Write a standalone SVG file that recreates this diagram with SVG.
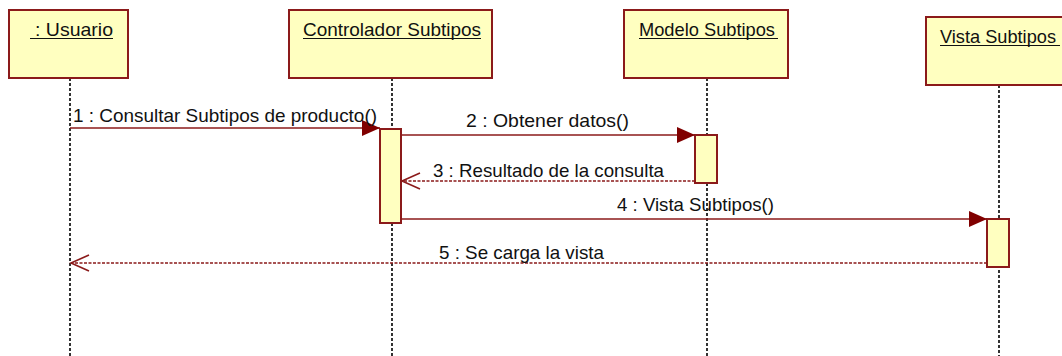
<svg xmlns="http://www.w3.org/2000/svg" width="1062" height="356" viewBox="0 0 1062 356">
  <defs>
    <marker id="filled" markerUnits="userSpaceOnUse" markerWidth="20" markerHeight="18" refX="18" refY="8" orient="auto">
      <path d="M0,0 L18,8 L0,16 Z" fill="#800000"/>
    </marker>
    <marker id="open" markerUnits="userSpaceOnUse" markerWidth="22" markerHeight="20" refX="19" refY="9" orient="auto">
      <path d="M1,1 L19,9 L1,17" fill="none" stroke="#8b1a1a" stroke-width="1.6"/>
    </marker>
  </defs>
  <style>
    .obj { fill: #ffffc0; stroke: #8b1a1a; stroke-width: 2; }
    .act { fill: #ffffc0; stroke: #8b1a1a; stroke-width: 2; }
    .life { stroke: #000; stroke-width: 1.6; stroke-dasharray: 3 2; fill: none; }
    .name { font-family: "Liberation Sans", Arial, sans-serif; font-size: 18.5px; fill: #111; }
    .ul { stroke: #111; stroke-width: 1.2; }
    .msg { stroke: #8b1a1a; stroke-width: 1.6; fill: none; }
    .ret { stroke: #8b1a1a; stroke-width: 1.6; fill: none; stroke-dasharray: 3 1.5; }
    .lbl { font-family: "Liberation Sans", Arial, sans-serif; font-size: 18.5px; fill: #111; }
  </style>

  <g id="lifelines">
    <line class="life" x1="70" y1="78" x2="70" y2="356"/>
    <line class="life" x1="392" y1="78" x2="392" y2="356"/>
    <line class="life" x1="707" y1="78" x2="707" y2="356"/>
    <line class="life" x1="999" y1="85" x2="999" y2="356"/>
  </g>

  <g id="node-usuario">
    <rect class="obj" x="9" y="10" width="119" height="68"/>
    <text class="name" x="35" y="36" textLength="78" lengthAdjust="spacingAndGlyphs">: Usuario</text>
    <line class="ul" x1="30" y1="38.5" x2="113" y2="38.5"/>
  </g>

  <g id="node-controlador">
    <rect class="obj" x="289" y="10" width="203" height="68"/>
    <text class="name" x="303" y="36" textLength="178" lengthAdjust="spacingAndGlyphs">Controlador Subtipos</text>
    <line class="ul" x1="303" y1="38.5" x2="481" y2="38.5"/>
    <rect class="act" x="380" y="129" width="21" height="94"/>
  </g>

  <g id="node-modelo">
    <rect class="obj" x="624" y="10" width="164" height="68"/>
    <text class="name" x="639" y="36" textLength="136" lengthAdjust="spacingAndGlyphs">Modelo Subtipos</text>
    <line class="ul" x1="639" y1="38.5" x2="778" y2="38.5"/>
    <rect class="act" x="695" y="135" width="22" height="48"/>
  </g>

  <g id="node-vista">
    <rect class="obj" x="926" y="17" width="146" height="68"/>
    <text class="name" x="940" y="43" textLength="116" lengthAdjust="spacingAndGlyphs">Vista Subtipos</text>
    <line class="ul" x1="940" y1="45.5" x2="1060" y2="45.5"/>
    <rect class="act" x="987" y="219" width="22" height="48"/>
  </g>

  <g id="connectors">
    <line class="msg" x1="70" y1="128" x2="380" y2="128" marker-end="url(#filled)"/>
    <text class="lbl" x="73" y="122" textLength="304" lengthAdjust="spacingAndGlyphs">1 : Consultar Subtipos de producto()</text>

    <line class="msg" x1="401" y1="135" x2="695" y2="135" marker-end="url(#filled)"/>
    <text class="lbl" x="466" y="127" textLength="163" lengthAdjust="spacingAndGlyphs">2 : Obtener datos()</text>

    <line class="ret" x1="695" y1="181" x2="402" y2="181" marker-end="url(#open)"/>
    <text class="lbl" x="433" y="177" textLength="231" lengthAdjust="spacingAndGlyphs">3 : Resultado de la consulta</text>

    <line class="msg" x1="401" y1="219" x2="987" y2="219" marker-end="url(#filled)"/>
    <text class="lbl" x="617" y="211" textLength="157" lengthAdjust="spacingAndGlyphs">4 : Vista Subtipos()</text>

    <line class="ret" x1="987" y1="263" x2="71" y2="263" marker-end="url(#open)"/>
    <text class="lbl" x="439" y="259" textLength="165" lengthAdjust="spacingAndGlyphs">5 : Se carga la vista</text>
  </g>
</svg>
